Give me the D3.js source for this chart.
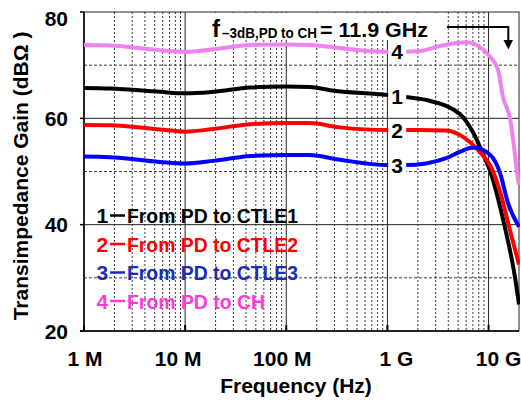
<!DOCTYPE html>
<html>
<head>
<meta charset="utf-8">
<script src="https://cdn.jsdelivr.net/npm/d3@7"></script>
<style>
  body { margin: 0; background: #fff; }
  text { font-family: "Liberation Sans", Arial, sans-serif; font-weight: bold; }
</style>
</head>
<body>
<svg id="chart" width="521" height="403"></svg>
<script>
// ---- data ----
const freqTicks = [1e6, 1e7, 1e8, 1e9, 1e10];
const freqTickLabels = ["1 M", "10 M", "100 M", "1 G", "10 G"];
const gainTicks = [20, 40, 60, 80];
const gainMinorTicks = [30, 50, 70];

const seriesIds = ["1", "2", "3", "4"];
const seriesNames = ["From PD to CTLE1", "From PD to CTLE2", "From PD to CTLE3", "From PD to CH"];

// frequency (Hz) / transimpedance gain (dBΩ)
const freqCTLE1 = [1e6, 1.8e6, 5.6e6, 1e7, 1.9e7, 4.4e7, 1e8, 1.7e8, 2.7e8, 1e9, 1.5e9, 2.6e9, 5.2e9, 6.9e9, 8.9e9, 1.04e10, 1.43e10, 1.83e10, 2e10];
const gainCTLE1 = [65.7, 65.6, 65.0, 64.7, 65.0, 65.8, 66.0, 65.9, 65.3, 64.4, 64.0, 63.3, 60.8, 57.6, 53.1, 50.0, 40.0, 30.0, 25.0];

const freqCTLE2 = [1e6, 1.8e6, 5.6e6, 1e7, 1.9e7, 4.4e7, 1e8, 1.7e8, 3.4e8, 1e9, 2e9, 3.8e9, 5.6e9, 7.9e9, 1.09e10, 1.33e10, 1.6e10, 2e10];
const gainCTLE2 = [58.75, 58.7, 57.9, 57.5, 58.0, 58.9, 59.1, 59.1, 58.3, 57.8, 57.8, 57.7, 56.5, 54.0, 50.3, 45.5, 39.5, 32.5];

const freqCTLE3 = [1e6, 1.8e6, 5.6e6, 1e7, 1.9e7, 4.4e7, 1e8, 1.7e8, 3.4e8, 1e9, 1.5e9, 2.4e9, 3.8e9, 5.2e9, 7.1e9, 1.04e10, 1.3e10, 1.56e10, 2e10];
const gainCTLE3 = [52.8, 52.7, 51.8, 51.5, 52.0, 52.9, 53.1, 53.1, 52.2, 51.2, 51.2, 51.5, 52.5, 53.7, 54.5, 53.1, 49.7, 44.0, 39.6];

const freqCH = [1e6, 1.8e6, 5.6e6, 1e7, 1.9e7, 4.4e7, 1e8, 1.7e8, 5.4e8, 1e9, 2e9, 3.3e9, 6.1e9, 7.9e9, 1e10, 1.24e10, 1.39e10, 1.64e10, 1.75e10, 1.96e10, 2e10];
const gainCH = [73.8, 73.7, 72.8, 72.5, 73.0, 73.8, 73.9, 73.8, 72.8, 72.5, 72.6, 73.6, 74.3, 73.6, 71.9, 69.1, 64.0, 59.7, 56.0, 48.4, 47.5];

const bandwidthLabel = "= 11.9 GHz";

// ---- layout ----
const svg = d3.select("#chart");
const pLeft = 84, pRight = 519, pTop = 12, pBottom = 331;

const x = d3.scaleLog().domain([1e6, 2e10]).range([pLeft, pRight]);
const y = d3.scaleLinear().domain([20, 80]).range([pBottom, pTop]);

const gridCol = "#3a3a3a";

// minor (dotted) vertical grid
const minorF = x.ticks().filter(f => !freqTicks.includes(f) && f < 2e10);
svg.append("g").selectAll("line").data(minorF).join("line")
  .attr("x1", d => x(d)).attr("x2", d => x(d))
  .attr("y1", pTop).attr("y2", pBottom)
  .attr("stroke", gridCol).attr("stroke-width", 1).attr("stroke-dasharray", "2,2");

// minor (dashed) horizontal grid
svg.append("g").selectAll("line").data(gainMinorTicks).join("line")
  .attr("x1", pLeft).attr("x2", pRight)
  .attr("y1", d => y(d)).attr("y2", d => y(d))
  .attr("stroke", gridCol).attr("stroke-width", 1).attr("stroke-dasharray", "3,2");

// major grid
svg.append("g").selectAll("line").data(freqTicks.slice(1)).join("line")
  .attr("x1", d => x(d)).attr("x2", d => x(d))
  .attr("y1", pTop).attr("y2", pBottom)
  .attr("stroke", "#222").attr("stroke-width", 1);
svg.append("g").selectAll("line").data([40, 60]).join("line")
  .attr("x1", pLeft).attr("x2", pRight)
  .attr("y1", d => y(d)).attr("y2", d => y(d))
  .attr("stroke", "#222").attr("stroke-width", 1);

// blank panel behind the bandwidth annotation
svg.append("rect").attr("x", 205).attr("y", pTop + 1).attr("width", 232).attr("height", 27).attr("fill", "#fff");

// frame
svg.append("rect").attr("x", pLeft).attr("y", pTop).attr("width", pRight - pLeft).attr("height", pBottom - pTop)
  .attr("fill", "none").attr("stroke", "#222").attr("stroke-width", 1);
svg.append("line").attr("x1", pLeft).attr("x2", pLeft).attr("y1", pTop).attr("y2", pBottom)
  .attr("stroke", "#000").attr("stroke-width", 1.5);
svg.append("line").attr("x1", pLeft - 4).attr("x2", pRight).attr("y1", pBottom).attr("y2", pBottom)
  .attr("stroke", "#000").attr("stroke-width", 1.5);

// y axis ticks + labels
svg.append("g").selectAll("line").data(gainTicks).join("line")
  .attr("x1", pLeft - 4).attr("x2", pLeft).attr("y1", d => y(d)).attr("y2", d => y(d))
  .attr("stroke", "#000").attr("stroke-width", 1.5);
svg.append("g").selectAll("text").data(gainTicks).join("text")
  .attr("x", 68).attr("y", d => Math.max(y(d), 18))
  .attr("text-anchor", "end").attr("dominant-baseline", "central")
  .attr("font-size", 21).attr("fill", "#000").text(d => d);

// x axis inner ticks + labels
svg.append("g").selectAll("line").data(freqTicks).join("line")
  .attr("x1", d => x(d)).attr("x2", d => x(d)).attr("y1", pBottom - 6).attr("y2", pBottom)
  .attr("stroke", "#000").attr("stroke-width", 2);
const labelNudge = [1, -7, -4, 9, 10];
svg.append("g").selectAll("text").data(freqTicks).join("text")
  .attr("x", (d, i) => x(d) + labelNudge[i]).attr("y", 366)
  .attr("text-anchor", "middle").attr("font-size", 21).attr("fill", "#000")
  .text((d, i) => freqTickLabels[i]);

// axis titles
svg.append("text").attr("x", 296).attr("y", 393).attr("text-anchor", "middle")
  .attr("font-size", 21).text("Frequency (Hz)");
svg.append("text").attr("transform", "translate(28,176) rotate(-90)").attr("text-anchor", "middle")
  .attr("font-size", 21).text("Transimpedance Gain (dBΩ )");

// curves
const freqs = [freqCTLE1, freqCTLE2, freqCTLE3, freqCH];
const gains = [gainCTLE1, gainCTLE2, gainCTLE3, gainCH];
const curveColors = ["#000000", "#ff0000", "#0000ff", "#ee82ee"];
const legendColors = ["#000000", "#ff0000", "#1a2db5", "#ff3ad8"];

svg.append("clipPath").attr("id", "plotClip").append("rect")
  .attr("x", pLeft).attr("y", pTop).attr("width", pRight - pLeft + 1).attr("height", pBottom - pTop);

const line = d3.line().x(d => x(d[0])).y(d => y(d[1])).curve(d3.curveMonotoneX);
const curves = svg.append("g").attr("clip-path", "url(#plotClip)");
// draw CH first so it sits beneath the others
[3, 0, 1, 2].forEach(i => {
  const pts = freqs[i].map((f, j) => [f, gains[i][j]]);
  curves.append("path").datum(pts).attr("d", line)
    .attr("fill", "none").attr("stroke", curveColors[i]).attr("stroke-width", 4)
    .attr("stroke-linejoin", "round");
});

// series number labels on the curves
const labelF = 1.25e9;
function gainAt(fArr, gArr, f) {
  const lx = fArr.map(v => Math.log10(v));
  const s = d3.scaleLinear().domain(lx).range(gArr);
  return s(Math.log10(f));
}
seriesIds.forEach((id, i) => {
  const cx = x(labelF), cy = y(gainAt(freqs[i], gains[i], labelF));
  svg.append("rect").attr("x", cx - 9).attr("y", cy - 10).attr("width", 18).attr("height", 20).attr("fill", "#fff");
  svg.append("text").attr("x", cx).attr("y", cy).attr("text-anchor", "middle")
    .attr("dominant-baseline", "central").attr("font-size", 21).attr("fill", "#000").text(id);
});

// legend
const legendBase = [223, 251.5, 280, 308.5];
const legendWidths = [171, 171, 171, 138];
seriesIds.forEach((id, i) => {
  const b = legendBase[i];
  svg.append("text").attr("x", 96.5).attr("y", b).attr("font-size", 21).attr("fill", legendColors[i]).text(id);
  svg.append("line").attr("x1", 110).attr("x2", 125).attr("y1", b - 7.5).attr("y2", b - 7.5)
    .attr("stroke", legendColors[i]).attr("stroke-width", 2.5);
  svg.append("text").attr("x", 127).attr("y", b).attr("font-size", 21).attr("fill", legendColors[i])
    .attr("textLength", legendWidths[i]).attr("lengthAdjust", "spacingAndGlyphs").text(seriesNames[i]);
});

// bandwidth annotation
svg.append("text").attr("x", 212).attr("y", 37).attr("font-size", 24).text("f");
svg.append("text").attr("x", 222).attr("y", 38).attr("font-size", 14)
  .attr("textLength", 95).attr("lengthAdjust", "spacingAndGlyphs").text("–3dB,PD to CH");
svg.append("text").attr("x", 320).attr("y", 37).attr("font-size", 21)
  .attr("textLength", 108).attr("lengthAdjust", "spacingAndGlyphs").text(bandwidthLabel);

// arrow pointing down to the roll-off
svg.append("path").attr("d", "M447,27 H508.3 V42").attr("fill", "none").attr("stroke", "#000").attr("stroke-width", 2);
svg.append("path").attr("d", "M503.5,40 L513,40 L508.3,49.5 Z").attr("fill", "#000");
</script>
</body>
</html>
